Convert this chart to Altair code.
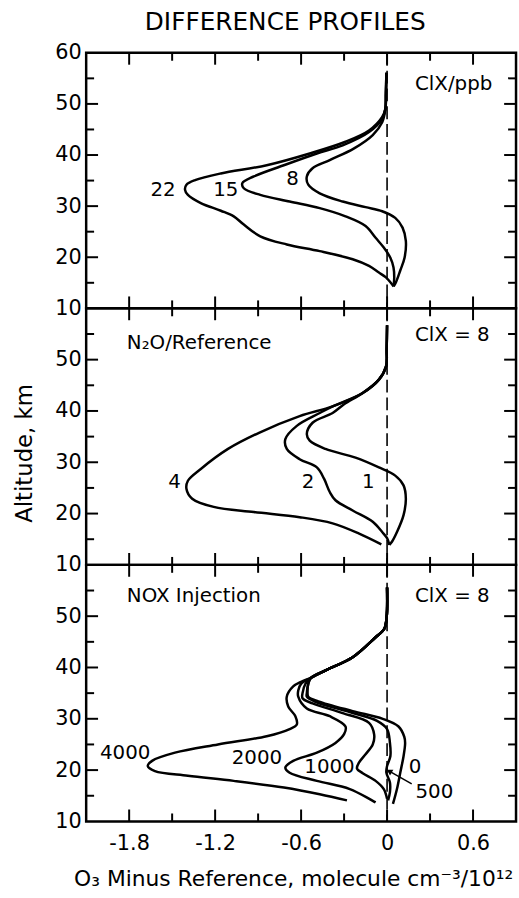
import altair as alt
import pandas as pd

# ---------------- data ----------------
# Top panel: ClX / ppb
TOP_22_X = [-0.005, -0.008, -0.012, -0.035, -0.126, -0.29, -0.54, -0.84, -1.16, -1.34, -1.40, -1.41, -1.39, -1.30, -1.16, -1.07, -1.00, -0.885, -0.70, -0.47, -0.24, -0.126, -0.057, -0.01, 0.023, 0.046]
TOP_22_ALT = [56.1, 52, 49, 47.4, 44.8, 42.6, 40.3, 38.0, 36.4, 35.1, 34.2, 33.2, 32.2, 30.6, 29.1, 28.0, 26.4, 24.1, 22.5, 21.2, 19.6, 18.3, 17.0, 16.1, 15.1, 14.3]
TOP_15_X = [-0.005, -0.008, -0.012, -0.034, -0.126, -0.31, -0.49, -0.72, -0.93, -1.01, -1.00, -0.885, -0.68, -0.47, -0.29, -0.15, -0.08, -0.023, 0.023, 0.045, 0.05, 0.046]
TOP_15_ALT = [56.1, 52, 49, 47.1, 44.5, 41.9, 40.3, 38.0, 35.8, 34.5, 33.5, 32.2, 30.9, 29.6, 28.0, 26.1, 23.8, 21.9, 19.9, 18.0, 16.1, 14.3]
TOP_8_X = [-0.005, -0.008, -0.012, -0.034, -0.10, -0.23, -0.40, -0.52, -0.56, -0.55, -0.47, -0.31, -0.15, -0.034, 0.057, 0.108, 0.131, 0.122, 0.092, 0.062, 0.046]
TOP_8_ALT = [56.1, 52, 49, 46.4, 43.9, 41.3, 39.0, 37.4, 35.8, 34.2, 32.5, 30.9, 29.8, 29.0, 27.7, 25.8, 23.2, 19.9, 17.4, 15.1, 14.3]

# Middle panel: N2O / Reference
MID_4_X = [0, -0.003, -0.007, -0.057, -0.17, -0.38, -0.61, -0.89, -1.11, -1.30, -1.39, -1.40, -1.36, -1.21, -0.93, -0.61, -0.38, -0.195, -0.04]
MID_4_ALT = [56.7, 52, 48.7, 46.1, 43.5, 40.9, 39.0, 35.8, 32.6, 28.7, 26.4, 24.8, 22.9, 21.3, 20.3, 19.3, 18.1, 16.1, 14.0]
MID_2_X = [0, -0.003, -0.007, -0.057, -0.17, -0.38, -0.47, -0.63, -0.71, -0.70, -0.61, -0.49, -0.44, -0.40, -0.36, -0.24, -0.10, -0.034, 0, 0.016]
MID_2_ALT = [56.7, 52, 48.7, 46.1, 43.5, 40.9, 39.6, 37.1, 34.5, 32.6, 30.6, 29.0, 26.8, 24.2, 22.6, 20.6, 18.4, 16.4, 15.2, 13.9]
MID_1_X = [0, -0.003, -0.007, -0.057, -0.17, -0.30, -0.38, -0.52, -0.56, -0.54, -0.43, -0.22, -0.057, 0.057, 0.115, 0.131, 0.115, 0.069, 0.034, 0.016]
MID_1_ALT = [56.7, 52, 48.7, 46.1, 43.5, 41.3, 39.6, 37.7, 35.5, 34.2, 32.6, 30.9, 29.0, 27.4, 25.5, 22.9, 19.7, 16.4, 14.5, 13.9]

# Bottom panel: NOX injection
BOT_4000_X = [0, -0.003, -0.02, -0.08, -0.24, -0.425, -0.53, -0.60, -0.655, -0.70, -0.69, -0.64, -0.63, -0.68, -0.84, -1.18, -1.48, -1.64, -1.67, -1.62, -1.39, -1.07, -0.72, -0.47, -0.28]
BOT_4000_ALT = [55.6, 49.8, 47.5, 45.9, 42.0, 39.5, 38.0, 37.2, 36.3, 34.3, 32.4, 30.5, 28.9, 28.0, 26.6, 25.0, 23.4, 21.8, 20.8, 19.8, 18.9, 17.9, 16.6, 15.3, 14.1]
BOT_2000_X = [0, -0.003, -0.02, -0.08, -0.24, -0.425, -0.53, -0.60, -0.62, -0.62, -0.56, -0.40, -0.29, -0.30, -0.36, -0.49, -0.655, -0.71, -0.68, -0.49, -0.26, -0.08]
BOT_2000_ALT = [55.6, 49.8, 47.5, 45.9, 42.0, 39.5, 38.0, 36.8, 35.5, 34.3, 32.0, 30.5, 28.5, 27.0, 25.3, 23.4, 21.8, 20.5, 19.5, 17.9, 16.3, 13.7]
BOT_1000_X = [0, -0.003, -0.02, -0.08, -0.24, -0.425, -0.53, -0.57, -0.59, -0.59, -0.52, -0.31, -0.126, -0.09, -0.10, -0.15, -0.195, -0.21, -0.17, -0.08, -0.023, 0]
BOT_1000_ALT = [55.6, 49.8, 47.5, 45.9, 42.0, 39.5, 38.0, 36.8, 35.0, 34.0, 33.0, 31.1, 29.2, 26.9, 25.0, 23.1, 21.5, 20.3, 19.4, 17.9, 16.3, 14.4]
BOT_500_X = [0, -0.003, -0.02, -0.08, -0.24, -0.425, -0.53, -0.55, -0.56, -0.56, -0.50, -0.26, -0.07, 0, 0.02, 0.023, 0.0, -0.005, 0.02, 0.02, 0.007]
BOT_500_ALT = [55.6, 49.8, 47.5, 45.9, 42.0, 39.5, 38.0, 36.8, 35.0, 34.3, 33.3, 31.3, 29.6, 28.0, 25.3, 22.7, 20.8, 19.5, 17.6, 15.7, 14.1]
BOT_0_X = [0, -0.003, -0.02, -0.08, -0.24, -0.425, -0.53, -0.55, -0.555, -0.55, -0.48, -0.24, -0.03, 0.08, 0.12, 0.126, 0.115, 0.092, 0.069, 0.041]
BOT_0_ALT = [55.6, 49.8, 47.5, 45.9, 42.0, 39.5, 38.0, 36.8, 35.0, 34.3, 33.4, 31.5, 30.0, 28.5, 26.5, 25.3, 22.7, 19.5, 16.3, 13.4]

# arrow pointing at the 500 curve
ARROW_X = [0.172, 0.015]
ARROW_ALT = [17.3, 19.8]

# labels
TOP_CORNER = ["ClX/ppb"]
TOP_CORNER_X = [0.195]
TOP_CORNER_ALT = [53.9]
TOP_CURVE_LABELS = ["22", "15", "8"]
TOP_CURVE_LX = [-1.563, -1.126, -0.66]
TOP_CURVE_LALT = [33.1, 33.2, 35.3]

MID_CORNER = ["N\u2082O/Reference", "ClX = 8"]
MID_CORNER_X = [-1.816, 0.195]
MID_CORNER_ALT = [53.2, 54.8]
MID_CURVE_LABELS = ["4", "2", "1"]
MID_CURVE_LX = [-1.483, -0.552, -0.131]
MID_CURVE_LALT = [26.1, 26.2, 26.2]

BOT_CORNER = ["NOX  Injection", "ClX = 8"]
BOT_CORNER_X = [-1.816, 0.195]
BOT_CORNER_ALT = [53.95, 53.95]
BOT_CURVE_LABELS = ["4000", "2000", "1000", "0", "500"]
BOT_CURVE_LX = [-1.828, -0.908, -0.402, 0.195, 0.33]
BOT_CURVE_LALT = [23.4, 22.4, 20.5, 20.5, 15.7]

X_MAJOR = [-1.8, -1.2, -0.6, 0.0, 0.6]
X_MINOR = [-1.5, -0.9, -0.3, 0.3]
Y_MAJOR_TICKS = [20, 30, 40, 50]
Y_MINOR_TICKS = [15, 25, 35, 45, 55]
Y_LABELS_TOP = [10, 20, 30, 40, 50, 60]
Y_LABELS_LOWER = [10, 20, 30, 40, 50]
ZERO_LINE = [0.0]

X_DOMAIN = [-2.1, 0.9]
Y_DOMAIN = [10, 60]

FONT = "DejaVu Sans"
W = 434


def curves_df(named):
    rows = []
    for name, xs, ys in named:
        for i, (xv, yv) in enumerate(zip(xs, ys)):
            rows.append({"series": name, "i": i, "x": xv, "alt": yv})
    return pd.DataFrame(rows)


def panel(named, corner, curve_lbl, H, y_labels, x_axis, y_title=None, extra=None):
    xs = alt.Scale(domain=X_DOMAIN, nice=False, zero=False)
    ys = alt.Scale(domain=Y_DOMAIN, nice=False, zero=False)
    if y_title:
        y_axis = alt.Axis(values=y_labels, title=y_title, titleFont=FONT, titleFontSize=23,
                          titleFontWeight="normal", titleAngle=270, titleAlign="center",
                          titleBaseline="alphabetic", titleX=-55, titleY=146, titleColor="black")
    else:
        y_axis = alt.Axis(values=y_labels, title=None)

    def X(field):
        return alt.X(field, type="quantitative", scale=xs, axis=x_axis)

    def Y(field):
        return alt.Y(field, type="quantitative", scale=ys, axis=y_axis)

    lines = alt.Chart(curves_df(named)).mark_line(
        color="black", strokeWidth=2.5, interpolate="catmull-rom"
    ).encode(x=X("x"), y=Y("alt"), detail="series:N", order="i:Q")

    zero = alt.Chart(pd.DataFrame({"v": ZERO_LINE})).mark_rule(
        color="black", strokeWidth=1.6, strokeDash=[13, 5]
    ).encode(x=X("v"))

    xmaj = pd.DataFrame({"v": X_MAJOR})
    xmin = pd.DataFrame({"v": X_MINOR})
    ymaj = pd.DataFrame({"v": Y_MAJOR_TICKS})
    ymin = pd.DataFrame({"v": Y_MINOR_TICKS})
    tk = dict(color="black", strokeWidth=2)
    ticks = [
        alt.Chart(xmaj).mark_rule(**tk).encode(x=X("v"), y=alt.value(H), y2=alt.value(H - 12)),
        alt.Chart(xmaj).mark_rule(**tk).encode(x=X("v"), y=alt.value(0), y2=alt.value(12)),
        alt.Chart(xmin).mark_rule(**tk).encode(x=X("v"), y=alt.value(H), y2=alt.value(H - 8)),
        alt.Chart(xmin).mark_rule(**tk).encode(x=X("v"), y=alt.value(0), y2=alt.value(8)),
        alt.Chart(ymaj).mark_rule(**tk).encode(y=Y("v"), x=alt.value(0), x2=alt.value(12)),
        alt.Chart(ymaj).mark_rule(**tk).encode(y=Y("v"), x=alt.value(W), x2=alt.value(W - 12)),
        alt.Chart(ymin).mark_rule(**tk).encode(y=Y("v"), x=alt.value(0), x2=alt.value(8)),
        alt.Chart(ymin).mark_rule(**tk).encode(y=Y("v"), x=alt.value(W), x2=alt.value(W - 8)),
    ]

    ctext, cx, cy = corner
    corner_t = alt.Chart(pd.DataFrame({"t": ctext, "x": cx, "alt": cy})).mark_text(
        font=FONT, fontSize=20, align="left", baseline="middle", color="black"
    ).encode(x=X("x"), y=Y("alt"), text="t:N")

    ltext, lx, ly = curve_lbl
    curve_t = alt.Chart(pd.DataFrame({"t": ltext, "x": lx, "alt": ly})).mark_text(
        font=FONT, fontSize=20, align="center", baseline="middle", color="black"
    ).encode(x=X("x"), y=Y("alt"), text="t:N")

    layers = [zero, lines] + ticks + [corner_t, curve_t]
    if extra is not None:
        layers += extra(X, Y)
    return alt.layer(*layers).properties(width=W, height=H)


def arrow(X, Y):
    df = pd.DataFrame({"x": ARROW_X, "alt": ARROW_ALT, "i": [0, 1]})
    shaft = alt.Chart(df).mark_line(color="black", strokeWidth=1.5).encode(
        x=X("x"), y=Y("alt"), order="i:Q")
    head = alt.Chart(df.iloc[[1]]).mark_point(
        shape="triangle-up", filled=True, color="black", size=45, angle=300, opacity=1
    ).encode(x=X("x"), y=Y("alt"))
    return [shaft, head]


x_axis_bottom = alt.Axis(
    values=X_MAJOR,
    labelExpr="datum.value == 0 ? '0' : (datum.value < 0 ? '-' + format(-datum.value, '.1f') : format(datum.value, '.1f'))",
    title="O\u2083 Minus Reference, molecule cm\u207b\u00b3/10\u00b9\u00b2",
    titleFont=FONT, titleFontSize=22, titleFontWeight="normal", titleColor="black",
    titleX=209, titleY=65, titleAlign="center", titleBaseline="alphabetic",
    labelPadding=11,
)

top = panel([("22", TOP_22_X, TOP_22_ALT), ("15", TOP_15_X, TOP_15_ALT), ("8", TOP_8_X, TOP_8_ALT)],
            (TOP_CORNER, TOP_CORNER_X, TOP_CORNER_ALT),
            (TOP_CURVE_LABELS, TOP_CURVE_LX, TOP_CURVE_LALT),
            258, Y_LABELS_TOP, None)
mid = panel([("4", MID_4_X, MID_4_ALT), ("2", MID_2_X, MID_2_ALT), ("1", MID_1_X, MID_1_ALT)],
            (MID_CORNER, MID_CORNER_X, MID_CORNER_ALT),
            (MID_CURVE_LABELS, MID_CURVE_LX, MID_CURVE_LALT),
            259, Y_LABELS_LOWER, None, y_title="Altitude, km")
bot = panel([("4000", BOT_4000_X, BOT_4000_ALT), ("2000", BOT_2000_X, BOT_2000_ALT),
             ("1000", BOT_1000_X, BOT_1000_ALT), ("500", BOT_500_X, BOT_500_ALT),
             ("0", BOT_0_X, BOT_0_ALT)],
            (BOT_CORNER, BOT_CORNER_X, BOT_CORNER_ALT),
            (BOT_CURVE_LABELS, BOT_CURVE_LX, BOT_CURVE_LALT),
            259, Y_LABELS_LOWER, x_axis_bottom, extra=arrow)

chart = alt.vconcat(top, mid, bot, spacing=0, bounds="flush").properties(
    title=alt.TitleParams("DIFFERENCE PROFILES", font=FONT, fontSize=25, fontWeight="normal",
                          anchor="middle", dx=20, color="black", offset=6),
    padding={"left": 12, "top": 5, "right": 0, "bottom": 0},
    background="white",
).configure_view(
    stroke="black", strokeWidth=2.5
).configure_axis(
    ticks=False, domain=False, grid=False, tickSize=0,
    labelFont=FONT, labelFontSize=21, labelColor="black", labelPadding=5,
)

chart.save("out.html", embed_options={"renderer": "svg", "actions": False})
